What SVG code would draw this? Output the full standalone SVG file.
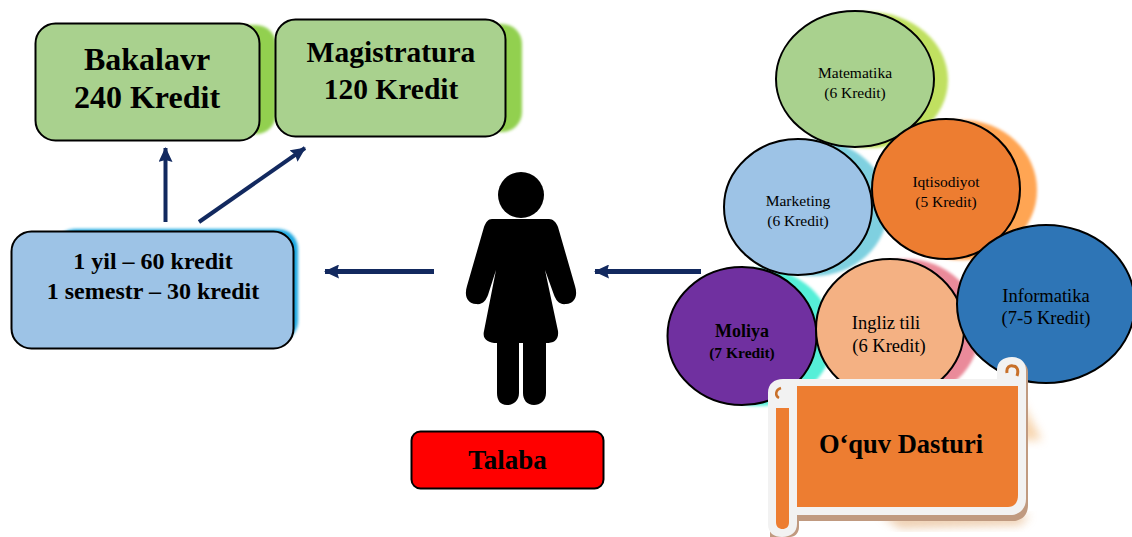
<svg xmlns="http://www.w3.org/2000/svg" width="1132" height="537" viewBox="0 0 1132 537">
<style>
text{font-family:"Liberation Serif","Times New Roman",serif;text-anchor:middle;fill:#000}
.b{font-weight:bold}
.box{stroke:#000;stroke-width:2}
.ell{stroke:#000;stroke-width:2}
.sh{filter:url(#blur)}
.arrow{stroke:#12295f;stroke-width:4;fill:none;marker-end:url(#ah)}
.c{font-size:15.500px}
.m{font-size:18.500px}
</style>
<defs>
<filter id="blur" x="-20%" y="-20%" width="140%" height="140%"><feGaussianBlur stdDeviation="1.500"/></filter>
<filter id="blur2" x="-30%" y="-30%" width="160%" height="160%"><feGaussianBlur stdDeviation="5"/></filter>
<marker id="ah" markerUnits="userSpaceOnUse" markerWidth="15" markerHeight="14" refX="14" refY="7" orient="auto"><path d="M0 0L15 7L0 14L2 7Z" fill="#12295f"/></marker>
</defs>
<rect width="1132" height="537" fill="#fff"/>
<g id="bakalavr">
<rect class="sh" x="60" y="25" width="216" height="109" rx="20" fill="#92d050"/>
<rect class="box" x="35.500" y="23.500" width="224" height="117" rx="20" fill="#a9d18e"/>
<text class="b" x="147" y="70" font-size="32">Bakalavr</text>
<text class="b" x="147" y="108" font-size="32">240 Kredit</text>
</g>
<g id="magistratura">
<rect class="sh" x="300" y="24" width="222" height="108" rx="20" fill="#92d050"/>
<rect class="box" x="275.500" y="19.500" width="230" height="117" rx="20" fill="#a9d18e"/>
<text class="b" x="391" y="62" font-size="29.500">Magistratura</text>
<text class="b" x="391" y="99" font-size="29.500">120 Kredit</text>
</g>
<g id="semestr">
<rect class="sh" x="55" y="229" width="243" height="112" rx="20" fill="#1fa8e0"/>
<rect class="box" x="11.500" y="231.500" width="282" height="117" rx="20" fill="#9dc3e6"/>
<text class="b" x="153" y="269" font-size="24">1 yil – 60 kredit</text>
<text class="b" x="153" y="299" font-size="24">1 semestr – 30 kredit</text>
</g>
<g id="connectors">
<line class="arrow" x1="165.500" y1="222" x2="165.500" y2="148"/>
<line class="arrow" x1="199" y1="222" x2="305" y2="148"/>
<line class="arrow" x1="434" y1="271.500" x2="325" y2="271.500" style="stroke-width:5"/>
<line class="arrow" x1="701" y1="271.500" x2="595" y2="271.500" style="stroke-width:5"/>
</g>
<g id="talaba-figure">
<circle cx="521" cy="195" r="23" fill="#000"/>
<path d="M492 219H549C553 219 556 222 558 227L575 286C578 296 575 303 566 304C559 305 556 300 554 295L545 270L558 331C559 340 554 343 546 343V393C546 401 540 405 534 405C527 405 523 400 523 393V343H519V393C519 401 513 405 507 405C500 405 497 400 497 393V343C488 343 482 339 484 331L496 270L488 295C486 300 483 305 476 304C467 303 464 296 467 286L484 227C486 222 488 219 492 219Z" fill="#000"/>
</g>
<g id="talaba">
<rect class="box" x="411.500" y="431.500" width="192" height="57" rx="9" fill="#ff0000"/>
<text class="b" x="507.500" y="469" font-size="27">Talaba</text>
</g>
<g id="oquv-shadows">
<ellipse class="sh" cx="869" cy="80" rx="79" ry="68" fill="#c0e060"/>
<ellipse class="sh" cx="962" cy="190" rx="75" ry="70" fill="#ffa552"/>
<ellipse class="sh" cx="814" cy="208" rx="74" ry="68" fill="#7fd0e0"/>
<ellipse class="sh" cx="758" cy="337" rx="75" ry="69" fill="#55efd8"/>
<ellipse class="sh" cx="906" cy="329" rx="74" ry="70" fill="#ea8a9a"/>
<path d="M1020 400L1042 440L1020 440Z" fill="#f4c28a" opacity=".7" filter="url(#blur2)"/>
<path d="M880 515H1030L1020 525L900 528Z" fill="#e6b88a" opacity=".7" filter="url(#blur2)"/>
</g>
<g id="matematika">
<ellipse class="ell" cx="855" cy="79" rx="79" ry="68" fill="#a9d18e"/>
<text class="c" x="855" y="78">Matematika</text>
<text class="c" x="855" y="98">(6 Kredit)</text>
</g>
<g id="marketing">
<ellipse class="ell" cx="798" cy="207" rx="74" ry="68" fill="#9dc3e6"/>
<text class="c" x="798" y="206">Marketing</text>
<text class="c" x="798" y="226">(6 Kredit)</text>
</g>
<g id="iqtisodiyot">
<ellipse class="ell" cx="946" cy="189" rx="74" ry="70" fill="#ed7d31"/>
<text class="c" x="946" y="187">Iqtisodiyot</text>
<text class="c" x="946" y="207">(5 Kredit)</text>
</g>
<g id="moliya">
<ellipse class="ell" cx="742" cy="336" rx="74.500" ry="69" fill="#7030a0"/>
<text class="b" x="742" y="337" font-size="18">Moliya</text>
<text class="b" x="742" y="358" font-size="15.500">(7 Kredit)</text>
</g>
<g id="ingliz">
<ellipse class="ell" cx="890" cy="329" rx="74" ry="70" fill="#f4b183"/>
<text class="m" x="886" y="329">Ingliz tili</text>
<text class="m" x="889" y="352">(6 Kredit)</text>
</g>
<g id="informatika">
<ellipse class="ell" cx="1046" cy="304" rx="89" ry="79" fill="#2e75b6"/>
<text class="m" x="1046" y="302">Informatika</text>
<text class="m" x="1046" y="324">(7-5 Kredit)</text>
</g>
<g id="oquv-dasturi">
<path d="M770 537V395C770 386 776 381 785 381H1000V372C1000 364 1006 360 1014 360C1022 360 1028 365 1028 372V505C1028 515 1022 521 1012 521H799V527C799 533 795 537 790 537Z" fill="#c09a80"/>
<path d="M768 533V393C768 384 774 379 783 379H997V370C997 362 1003 357 1012 357C1020 357 1026 362 1026 370V499C1026 509 1019 515 1010 515H797V524C797 532 791 537 782 537C774 537 768 533 768 524Z" fill="#f2f2f2"/>
<path d="M797 386H1018V495C1018 503 1014 507 1008 507H797Z" fill="#ed7d31"/>
<path d="M776 408H789V522C789 527 786 529 782.500 529C779 529 776 527 776 522Z" fill="#ed7d31"/>
<path d="M781 388C775 390 775 396 779 398" fill="none" stroke="#c8702a" stroke-width="2.500"/>
<path d="M1007 373C1006 367 1010 365 1013 366C1017 366 1019 370 1017 376" fill="none" stroke="#c8702a" stroke-width="3"/>
<text class="b" x="901" y="453" font-size="26.500">O‘quv Dasturi</text>
</g>
</svg>
